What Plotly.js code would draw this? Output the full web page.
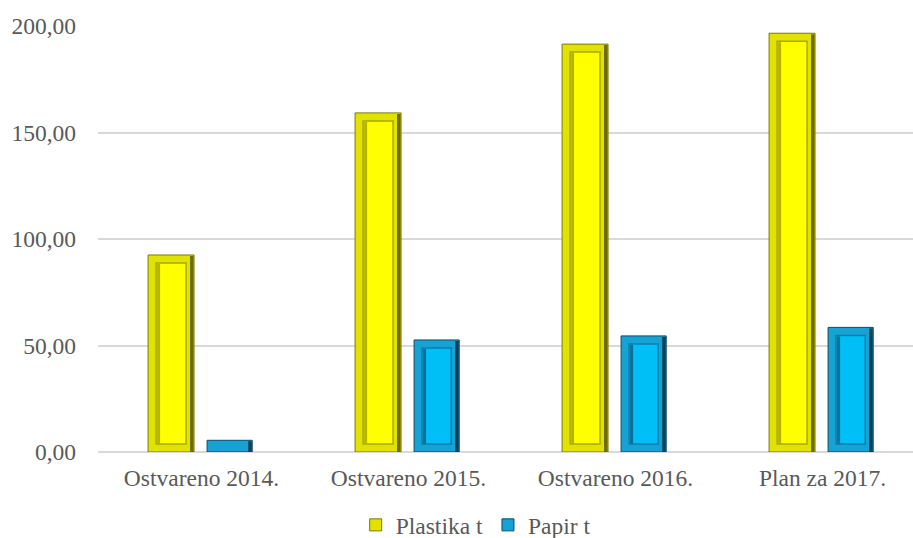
<!DOCTYPE html>
<html>
<head>
<meta charset="utf-8">
<script src="https://cdn.plot.ly/plotly-3.0.1.min.js"></script>
<style>html,body{margin:0;padding:0;background:#fff;}#chart{width:913px;height:538px;}</style>
</head>
<body>
<div id="chart"></div>
<script>
const categories = ["Ostvareno 2014.", "Ostvareno 2015.", "Ostvareno 2016.", "Plan za 2017."];
const plastika = [92.5, 159.2, 191.5, 196.6];
const papir = [5.5, 52.6, 54.5, 58.5];
const seriesNames = ["Plastika t", "Papir t"];

const W = 913, H = 538;
const M = {l: 98, r: 0, t: 26, b: 86};
const yMax = 200;
const catPx = 207;
const plotW = W - M.l - M.r;
const plotH = H - M.t - M.b;
const xRange = [-0.5, -0.5 + plotW / catPx];
const insetPx = 8;
const px2x = 1 / catPx;
const px2y = yMax / plotH;
const insetX = insetPx * px2x;
const insetY = insetPx * px2y;

const font = {family: "'Liberation Serif', 'Times New Roman', serif", size: 23.5, color: "#595959"};

function bevelTraces(vals, name, offset, width, c) {
  const common = {type: "bar", x: categories, hoverinfo: "skip"};
  const outer = Object.assign({}, common, {
    y: vals, name: name, offset: offset, width: width,
    marker: {color: c.frame, line: {color: c.frameLine, width: 1}}
  });
  const rightShade = Object.assign({}, common, {
    y: vals.map(v => v - 1 * px2y), base: 0, showlegend: false,
    offset: offset + width - 4 * px2x, width: 3.5 * px2x,
    marker: {color: c.dark, line: {width: 0}}
  });
  const innerTop = vals.map(v => v > 2 * insetY ? v - 2 * insetY : null);
  const inner = Object.assign({}, common, {
    y: innerTop, base: insetY, showlegend: false,
    offset: offset + insetX, width: width - 2 * insetX,
    marker: {color: c.face, line: {color: c.faceLine, width: 1.5}}
  });
  const innerShade = Object.assign({}, common, {
    y: vals.map(v => v > 2 * insetY ? v - 2 * insetY - 1 * px2y : null), base: insetY, showlegend: false,
    offset: offset + insetX + 1 * px2x, width: 3 * px2x,
    marker: {color: c.faceShade, line: {width: 0}}
  });
  return [outer, rightShade, inner, innerShade];
}

const data = [
  ...bevelTraces(plastika, seriesNames[0], -0.258, 0.222,
    {frame: "#E2E200", frameLine: "#7A7A00", dark: "#6B6B00", face: "#FFFF00", faceLine: "#A8A800", faceShade: "#B5B500"}),
  ...bevelTraces(papir, seriesNames[1], 0.027, 0.218,
    {frame: "#17A2D4", frameLine: "#0B4A66", dark: "#0A3E55", face: "#00BFF7", faceLine: "#0A7FAE", faceShade: "#0B6F99"})
];

const layout = {
  width: W, height: H,
  margin: M,
  paper_bgcolor: "#fff", plot_bgcolor: "#fff",
  barmode: "overlay",
  separators: ",.",
  font: font,
  xaxis: {
    type: "category", range: xRange, showgrid: false, zeroline: false,
    showline: false, ticks: "", tickfont: font, ticklabelstandoff: 9, fixedrange: true
  },
  yaxis: {
    range: [0, yMax], tickvals: [0, 50, 100, 150, 200], tickformat: ".2f",
    showgrid: true, gridcolor: "#D9D9D9", gridwidth: 2,
    zeroline: true, zerolinecolor: "#D9D9D9", zerolinewidth: 2,
    showline: false, ticks: "", tickfont: font, ticklabelstandoff: 21, fixedrange: true
  },
  legend: {
    orientation: "h", xref: "container", yref: "container",
    x: 0.521, xanchor: "center", y: 0.024, yanchor: "middle",
    font: font, itemwidth: 30, tracegroupgap: 0
  },
  showlegend: true
};

Plotly.newPlot("chart", data, layout, {displayModeBar: false, staticPlot: true});
</script>
</body>
</html>
